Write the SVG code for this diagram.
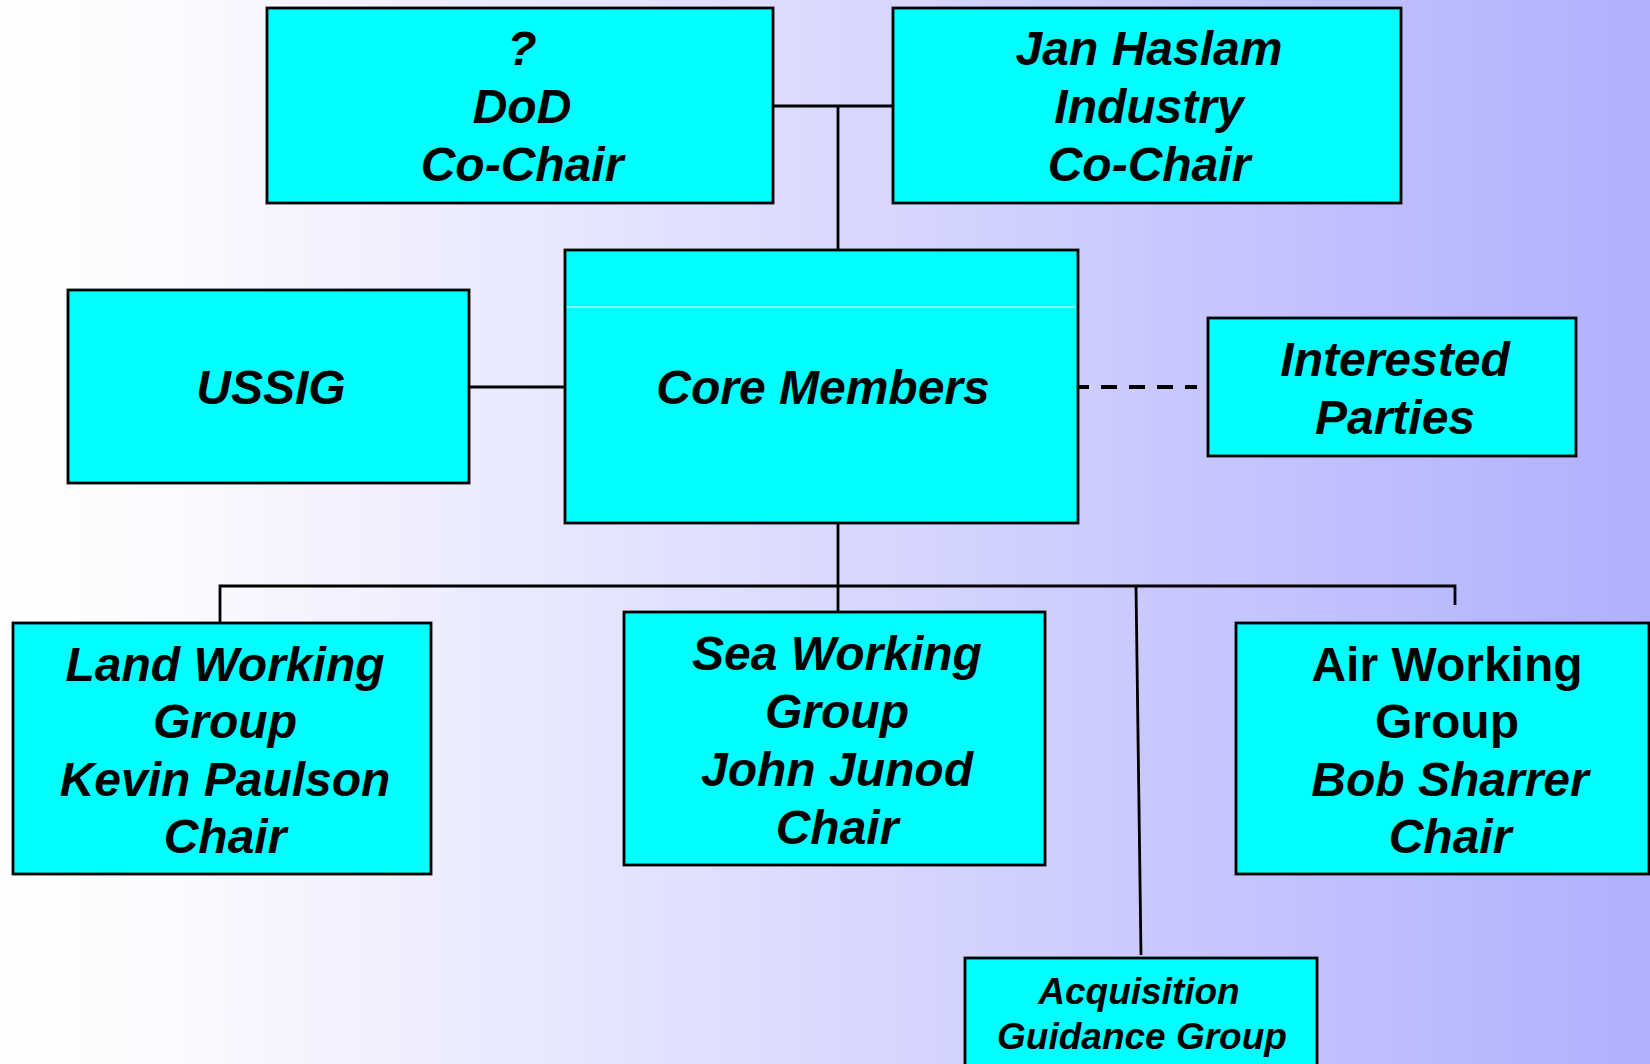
<svg xmlns="http://www.w3.org/2000/svg" width="1650" height="1064" viewBox="0 0 1650 1064">
<defs>
<linearGradient id="bg" x1="0" y1="0" x2="1" y2="0">
<stop offset="0" stop-color="#ffffff"/>
<stop offset="0.1" stop-color="#fbfbff"/>
<stop offset="1" stop-color="#b0b0ff"/>
</linearGradient>
<style>
.box{fill:#00ffff;stroke:#000;stroke-width:2.8}
.t{font-family:"Liberation Sans",Arial,sans-serif;font-weight:bold;font-style:italic;font-size:48px;fill:#000;text-anchor:middle}
.u{font-style:normal}
.s{font-size:37px}
.c{stroke:#000;stroke-width:2.8;fill:none}
.d{stroke-width:4;stroke-dasharray:16 12;stroke-dashoffset:5}
</style>
</defs>
<rect x="0" y="0" width="1650" height="1064" fill="url(#bg)"/>
<g id="connectors">
<path class="c" d="M773,106 H893 M838,106 V250"/>
<path class="c" d="M469,387 H565"/>
<path class="c d" d="M1078,387 H1197"/>
<path class="c" d="M838,523 V612 M220,623 V586 H1455 V605"/>
<path class="c" d="M1136,586 L1141,955"/>
</g>
<g id="dod">
<rect class="box" x="267" y="8" width="506" height="195"/>
<text class="t" x="522" y="65">?</text>
<text class="t" x="522" y="123">DoD</text>
<text class="t" x="522" y="181">Co-Chair</text>
</g>
<g id="industry">
<rect class="box" x="893" y="8" width="508" height="195"/>
<text class="t" x="1149" y="65">Jan Haslam</text>
<text class="t" x="1149" y="123">Industry</text>
<text class="t" x="1149" y="181">Co-Chair</text>
</g>
<g id="core">
<rect class="box" x="565" y="250" width="513" height="273"/>
<line x1="567" y1="307" x2="1076" y2="307" stroke="#ffffff" stroke-width="1"/>
<text class="t" x="823" y="404">Core Members</text>
</g>
<g id="ussig">
<rect class="box" x="68" y="290" width="401" height="193"/>
<text class="t" x="271" y="404">USSIG</text>
</g>
<g id="interested">
<rect class="box" x="1208" y="318" width="368" height="138"/>
<text class="t" x="1395" y="376">Interested</text>
<text class="t" x="1395" y="434">Parties</text>
</g>
<g id="land">
<rect class="box" x="13" y="623" width="418" height="251"/>
<text class="t" x="225" y="681">Land Working</text>
<text class="t" x="225" y="738">Group</text>
<text class="t" x="225" y="796">Kevin Paulson</text>
<text class="t" x="225" y="853">Chair</text>
</g>
<g id="sea">
<rect class="box" x="624" y="612" width="421" height="253"/>
<text class="t" x="837" y="670">Sea Working</text>
<text class="t" x="837" y="728">Group</text>
<text class="t" x="837" y="786">John Junod</text>
<text class="t" x="837" y="844">Chair</text>
</g>
<g id="air">
<rect class="box" x="1236" y="623" width="413" height="251"/>
<text class="t u" x="1447" y="681">Air Working</text>
<text class="t u" x="1447" y="738">Group</text>
<text class="t" x="1450" y="796">Bob Sharrer</text>
<text class="t" x="1450" y="853">Chair</text>
</g>
<g id="acquisition">
<rect class="box" x="965" y="958" width="352" height="120"/>
<text class="t s" x="1139" y="1004">Acquisition</text>
<text class="t s" x="1142" y="1049">Guidance Group</text>
</g>
</svg>
